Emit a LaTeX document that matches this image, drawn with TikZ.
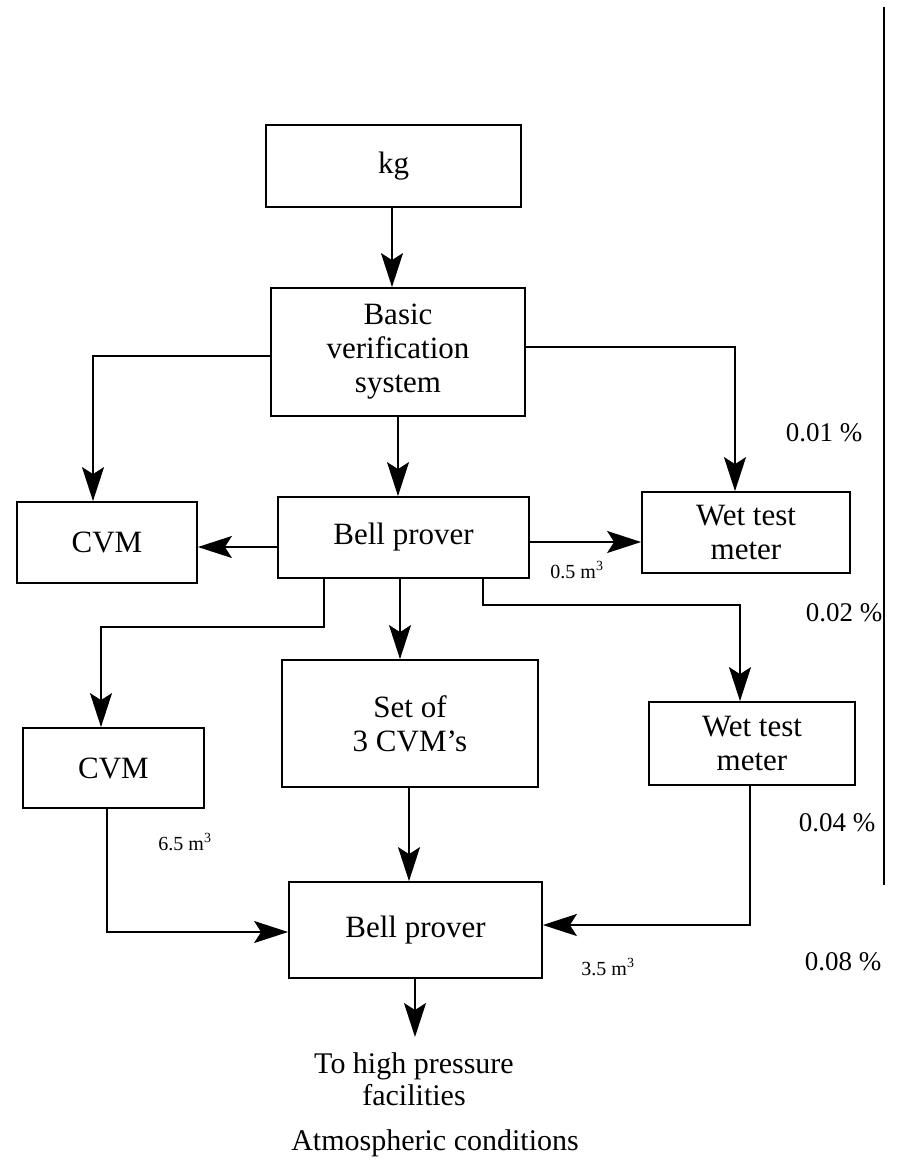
\documentclass[tikz,border=0pt]{standalone}
\usepackage{fontspec}
\setmainfont{Liberation Serif}
\usetikzlibrary{arrows.meta,calc}
\begin{document}
\begin{tikzpicture}[x=1pt,y=-1pt,
  box/.style={draw,line width=1.8pt,inner sep=0pt,align=center,font=\fontsize{31}{34}\selectfont},
  arr/.style={line width=1.8pt,-{Stealth[length=34pt,width=22pt,inset=7pt]}},
  ln/.style={line width=1.8pt},
  lab/.style={font=\fontsize{27}{30}\selectfont},
  small/.style={font=\fontsize{20}{24}\selectfont}]
\useasboundingbox (0,0) rectangle (907,1162);
% boxes
\node[box,minimum width=255pt,minimum height=82pt] (kg) at (393.5,166) {kg};
\node[box,minimum width=254pt,minimum height=128pt] (basic) at (398,352) {Basic\\verification\\system};
\node[box,minimum width=180pt,minimum height=81pt] (cvm1) at (107,542.5) {CVM};
\node[box,minimum width=251pt,minimum height=81pt] (bell1) at (403.5,537.5) {Bell prover};
\node[box,minimum width=208pt,minimum height=81pt] (wet1) at (746,532.5) {Wet test\\meter};
\node[box,minimum width=181pt,minimum height=80pt] (cvm2) at (113.5,768) {CVM};
\node[box,minimum width=256pt,minimum height=127pt] (set3) at (410,723.5) {Set of\\3 CVM's};
\node[box,minimum width=206pt,minimum height=83pt] (wet2) at (752,743.5) {Wet test\\meter};
\node[box,minimum width=253pt,minimum height=96pt] (bell2) at (415.5,930) {Bell prover};
% helper coordinates
\coordinate (xa) at (93,0);
\coordinate (xb) at (735,0);
\coordinate (ya) at (0,356);
\coordinate (yb) at (0,347);
\coordinate (xc) at (324,0);
\coordinate (xd) at (101,0);
\coordinate (yc) at (0,627);
\coordinate (xe) at (483,0);
\coordinate (xf) at (740,0);
\coordinate (yd) at (0,605);
\coordinate (xg) at (107,0);
\coordinate (ye) at (0,932);
\coordinate (xh) at (750,0);
\coordinate (yf) at (0,925);
\coordinate (out) at (415,1037);
\coordinate (bt) at (884,7);
\coordinate (bb) at (884,885);
% connectors
\draw[arr] (kg.south -| 392,0) -- (basic.north -| 392,0);
\draw[arr] (basic.west |- ya) -| (cvm1.north -| xa);
\draw[arr] (basic.east |- yb) -| (wet1.north -| xb);
\draw[arr] (basic.south -| 398,0) -- (bell1.north -| 398,0);
\draw[arr] (bell1.west |- 0,547) -- (cvm1.east |- 0,547);
\draw[arr] (bell1.east |- 0,542) -- (wet1.west |- 0,542);
\draw[arr] (bell1.south -| xc) |- (yc -| xd) -- (cvm2.north -| xd);
\draw[arr] (bell1.south -| 400,0) -- (set3.north -| 400,0);
\draw[arr] (bell1.south -| xe) |- (yd -| xf) -- (wet2.north -| xf);
\draw[arr] (cvm2.south -| xg) |- (bell2.west |- ye);
\draw[arr] (set3.south -| 409,0) -- (bell2.north -| 409,0);
\draw[arr] (wet2.south -| xh) |- (bell2.east |- yf);
\draw[arr] (bell2.south -| out) -- (out);
\draw[ln] (bt) -- (bb);
% labels
\node[small] (l05) at (577,570) {0.5 m\textsuperscript{3}};
\node[small] (l65) at (185,842) {6.5 m\textsuperscript{3}};
\node[small] (l35) at (608,967) {3.5 m\textsuperscript{3}};
\node[lab] (p1) at (824,433) {0.01 \%};
\node[lab] (p2) at (844,613) {0.02 \%};
\node[lab] (p3) at (837,823) {0.04 \%};
\node[lab] (p4) at (843,962) {0.08 \%};
\node[align=center,font=\fontsize{30}{32}\selectfont] (hp) at (414,1079) {To high pressure\\facilities};
\node[font=\fontsize{30}{32}\selectfont] (atm) at (435,1143) {Atmospheric conditions};
\end{tikzpicture}
\end{document}
